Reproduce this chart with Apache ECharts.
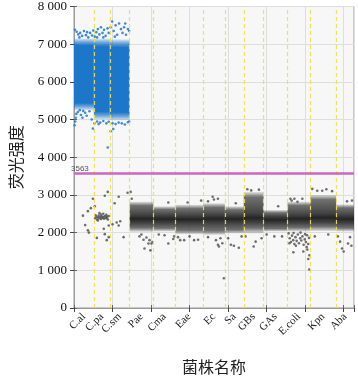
<!DOCTYPE html>
<html><head><meta charset="utf-8">
<script src="https://cdn.jsdelivr.net/npm/echarts@6/dist/echarts.min.js"></script>
<style>html,body{margin:0;padding:0;background:#fff}#c{width:358px;height:380px}</style>
</head><body><div id="c"></div>
<script>
// ---- data ----
const categories = ['C.al','C.pa','C.sm','Pae','Cma','Eae','Ec','Sa','GBs','GAs','E.coli','Kpn','Aba'];
const wellStart = [0,515,928,1443,2062,2629,3351,3917,4407,4922,5541,6133,6804];
const wellEnd   = [515,928,1443,2062,2629,3351,3917,4407,4922,5541,6133,6804,7268];
// positive (blue) droplet band per well
const posLow  = [5250,5000,4980,null,null,null,null,null,null,null,null,null,null];
const posHigh = [7150,7150,7130,null,null,null,null,null,null,null,null,null,null];
// negative (grey) droplet band per well
const negLow      = [null,null,null,2020,2030,1960,1940,1980,1980,2030,2030,2040,2030];
const negHigh     = [null,null,null,2820,2700,2740,2780,2700,3080,2600,2820,3000,2750];
const negCoreLow  = [null,null,null,2250,2250,2240,2250,2250,2260,2240,2250,2270,2250];
const negCoreHigh = [null,null,null,2480,2470,2460,2480,2470,2520,2440,2480,2520,2470];
const threshold = 3563;
const yMin = 0, yMax = 8000, yStep = 1000;
const xMax = 7268, xStep = 1000;
// scattered positive droplets outside the dense band [event, amplitude]
const blueFringe = [
 [25,7380],[70,7330],[110,7260],[160,7300],[210,7220],[260,7350],[310,7240],[370,7180],[420,7300],[470,7230],[500,7360],[140,7180],[340,7320],
 [15,4850],[30,4950],[45,5050],[60,5150],[100,5200],[180,5120],[240,5230],[290,5180],[330,5100],[400,5220],[460,5000],[490,4760],[220,5050],[150,5250],
 [540,7200],[580,7320],[620,7400],[660,7260],[700,7450],[740,7300],[780,7380],[820,7220],[870,7420],[900,7300],[600,7180],[760,7180],
 [530,4900],[600,4950],[680,4920],[760,4960],[840,4900],[900,4940],[876,4260],[640,4880],
 [950,7450],[990,7600],[1030,7350],[1080,7500],[1120,7250],[1170,7550],[1220,7400],[1260,7300],[1300,7450],[1350,7250],[1400,7400],[1430,7350],[1060,7200],[1330,7550],
 [953,4690],[1000,4900],[1080,4880],[1160,4920],[1240,4900],[1320,4870],[1400,4930],[1430,4950],[1020,4750]
];
// scattered negative droplets outside the dense band [event, amplitude]
const greyScatter = [
 [232,2450],[290,2200],[361,2060],[387,2000],[361,2570],[438,2650],[490,2900],
 [593,1860],[540,2700],[799,2980],[876,3080],[773,2100],[799,1960],[850,1800],[902,1880],[902,2190],
 [550,2380],[580,2420],[600,2350],[620,2400],[640,2450],[660,2380],[680,2420],[700,2360],[720,2430],[740,2390],
 [760,2410],[780,2370],[800,2440],[820,2400],[840,2380],[860,2420],[880,2350],[700,2480],[620,2320],[760,2500],
 [840,2470],[900,2440],[560,2460],[660,2520],
 [1056,2780],[1160,2950],[1108,2270],[1160,2190],[1288,1880],[1391,3060],[1000,2220],[1200,2300],
 [1804,1810],[1830,1580],[1984,1530],[2010,1710],[1933,1710],[1960,1800],[1700,1900],[1880,1870],[1470,3080],[1500,2900],[1750,1950],[2040,1750],
 [2448,1710],[2577,1830],[2600,1900],[2200,1950],[2448,2800],[2350,1930],
 [2757,1800],[2860,1800],[3118,1800],[3221,1810],[2700,1880],[3000,1900],[2950,2800],[3300,2850],
 [3479,1880],[3685,1800],[3736,1680],[3762,1630],[3891,790],[3479,2830],[3633,2880],[3736,2900],[3800,1850],[3850,1720],[3600,2950],
 [4072,1680],[4150,1650],[4278,1600],[4200,2780],[4000,1850],[4350,1900],
 [4664,1630],[4715,1760],[4500,3150],[4600,3120],[4800,3140],[4450,1900],[4870,1850],
 [5000,1950],[5200,1900],[5400,1900],[5300,2700],
 [5617,2900],[5720,2900],[5927,2900],[5650,2850],[5800,2820],
 [5570,1980],[5600,1850],[5630,1750],[5660,1920],[5690,1800],[5720,1700],[5750,1880],[5780,1780],[5810,1950],[5840,1720],
 [5870,1850],[5900,1790],[5930,1900],[5960,1680],[5990,1820],[6020,1750],[6050,1930],[6080,1700],[6100,1860],[5700,1990],
 [5880,2000],[6000,1960],[5590,1720],[5760,1650],[6040,1620],[5694,1480],[5952,1500],[6055,1550],[6081,1300],[6107,1020],[6110,1400],
 [6185,3160],[6314,3110],[6443,3110],[6550,3150],[6700,3100],[6250,1900],[6600,1950],
 [6907,1760],[6958,1580],[7113,1710],[7165,1880],[7087,2830],[7216,2850],[7000,1500],[7200,1650],[6850,1900]
];

// ---- chart ----
const wellCenters = wellStart.map((s,i)=>(s+wellEnd[i])/2);
const posBands = [], negBands = [];
categories.forEach((c,i)=>{
  if (posLow[i]!=null) posBands.push([wellStart[i],wellEnd[i],posLow[i],posHigh[i],posLow[i],posHigh[i]]);
  if (negLow[i]!=null) negBands.push([wellStart[i],wellEnd[i],negLow[i],negHigh[i],negCoreLow[i],negCoreHigh[i]]);
});

function bandRenderer(kind){
  return function(params, api){
    const s=api.value(0), e=api.value(1), lo=api.value(2), hi=api.value(3), cl=api.value(4), ch=api.value(5);
    const p1=api.coord([s,hi]), p2=api.coord([e,lo]);
    const off = v => Math.min(0.999,Math.max(0.001,(hi-v)/(hi-lo)));
    let stops;
    if (kind==='pos') {
      const c='28,118,202';
      stops=[{offset:0,color:`rgba(${c},0.12)`},{offset:0.045,color:`rgba(${c},0.6)`},{offset:0.1,color:`rgba(${c},1)`},
             {offset:0.9,color:`rgba(${c},1)`},{offset:0.955,color:`rgba(${c},0.6)`},{offset:1,color:`rgba(${c},0.12)`}];
    } else {
      const a=off(ch), b=off(cl), m=(a+b)/2;
      stops=[{offset:0,color:'rgba(80,80,80,0.12)'},{offset:Math.min(0.13,a*0.6),color:'rgba(82,82,82,0.82)'},
             {offset:a,color:'rgba(62,62,62,0.97)'},{offset:m,color:'rgba(36,36,36,1)'},{offset:b,color:'rgba(62,62,62,0.97)'},
             {offset:Math.max(0.87,b+(1-b)*0.45),color:'rgba(82,82,82,0.82)'},{offset:1,color:'rgba(80,80,80,0.12)'}];
    }
    return {type:'rect', shape:{x:p1[0],y:p1[1],width:p2[0]-p1[0],height:p2[1]-p1[1]},
      style:{fill:new echarts.graphic.LinearGradient(0,0,0,1,stops)}};
  };
}

const serif = 'Liberation Serif';
const chart = echarts.init(document.getElementById('c'), null, {renderer:'canvas'});
chart.setOption({
  animation:false,
  grid:{left:72,right:4,top:5,bottom:61,show:true,backgroundColor:'#f7f7f7',borderColor:'#9a9a9a',borderWidth:1},
  xAxis:[{
    type:'value',min:0,max:xMax,interval:xStep,
    name:'菌株名称',nameLocation:'middle',nameGap:51,
    nameTextStyle:{fontFamily:'Noto Sans CJK SC',fontSize:16,color:'#222'},
    axisLine:{show:true,lineStyle:{color:'#555'}},
    axisTick:{show:true,length:4,lineStyle:{color:'#444'}},
    splitLine:{show:true,lineStyle:{color:'#dedede'}},
    axisLabel:{customValues:wellCenters,rotate:45,margin:7,fontFamily:serif,fontSize:11,color:'#222',
      formatter:v=>{const i=wellCenters.findIndex(c=>Math.abs(c-v)<1);return i>=0?categories[i]:'';}}
  },{
    type:'value',position:'top',min:0,max:xMax,interval:xStep,
    axisLine:{show:true,lineStyle:{color:'#9a9a9a'}},axisTick:{show:true,length:3,lineStyle:{color:'#666'}},
    axisLabel:{show:false},splitLine:{show:false}
  }],
  yAxis:[{
    type:'value',min:yMin,max:yMax,interval:yStep,
    name:'荧光强度',nameLocation:'middle',nameGap:50,
    nameTextStyle:{fontFamily:'Noto Sans CJK SC',fontSize:16,color:'#222'},
    axisLine:{show:true,lineStyle:{color:'#555'}},
    axisTick:{show:true,length:4,lineStyle:{color:'#444'}},
    splitLine:{show:true,lineStyle:{color:'#dedede'}},
    axisLabel:{fontFamily:serif,fontSize:13,color:'#111',margin:7,
      formatter:v=>v>=1000?String(v).replace(/(\d)(\d{3})$/,'$1 $2'):String(v)}
  },{
    type:'value',position:'right',min:yMin,max:yMax,interval:yStep,
    axisLine:{show:true,lineStyle:{color:'#9a9a9a'}},axisTick:{show:true,length:3,lineStyle:{color:'#666'}},
    axisLabel:{show:false},splitLine:{show:false}
  }],
  series:[
    {type:'custom',renderItem:bandRenderer('neg'),data:negBands,encode:{x:[0,1],y:[2,3]},silent:true,z:2},
    {type:'custom',renderItem:bandRenderer('pos'),data:posBands,encode:{x:[0,1],y:[2,3]},silent:true,z:2},
    {type:'scatter',data:greyScatter,symbolSize:2.6,itemStyle:{color:'#555',opacity:0.85},silent:true,z:3},
    {type:'scatter',data:blueFringe,symbolSize:2.6,itemStyle:{color:'#2a80d0',opacity:0.9},silent:true,z:3,
     markLine:{silent:true,symbol:'none',animation:false,z:5,
       data:[
         ...wellStart.slice(1).map(v=>({xAxis:v,lineStyle:{color:'rgba(242,222,70,0.9)',width:1.2,type:[4,3]},label:{show:false}})),
         {yAxis:threshold,lineStyle:{color:'#cc66c0',width:2.5,type:'solid'},
          label:{show:true,position:'insideStartTop',formatter:String(threshold),fontSize:8,color:'#555',distance:[-3,1]}}
       ]}}
  ]
});
</script></body></html>
